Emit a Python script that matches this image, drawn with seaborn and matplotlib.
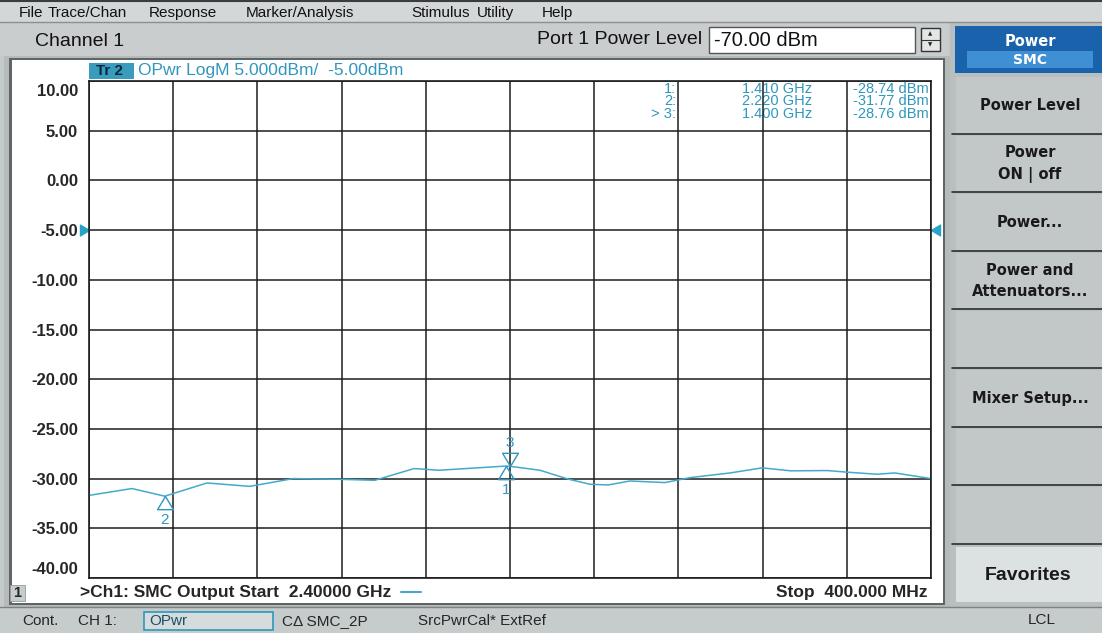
import numpy as np
import pandas as pd
import matplotlib
matplotlib.use("Agg")
import matplotlib.pyplot as plt
import matplotlib.transforms as mtransforms
from matplotlib.patches import Rectangle
from matplotlib.path import Path
import seaborn as sns

# trace data (frequency in GHz, output power in dBm)
freq_ghz = [2.400, 2.298, 2.220, 2.120, 2.018, 1.915, 1.806, 1.721, 1.628, 1.569,
            1.410, 1.400, 1.329, 1.260, 1.210, 1.167, 1.115, 1.032, 0.972, 0.877,
            0.801, 0.733, 0.647, 0.597, 0.528, 0.486, 0.400]
power_dbm = [-31.69, -31.00, -31.77, -30.44, -30.78, -30.00, -30.07, -30.17, -28.99, -29.16,
             -28.74, -28.76, -29.16, -30.07, -30.57, -30.64, -30.24, -30.40, -29.90, -29.43,
             -28.92, -29.22, -29.19, -29.36, -29.56, -29.43, -30.00]

# markers
marker_ids = ["1", "2", "3"]
marker_freq = [1.410, 2.220, 1.400]
marker_dbm = [-28.74, -31.77, -28.76]
marker_up = [True, True, False]

y_ticks = [10, 5, 0, -5, -10, -15, -20, -25, -30, -35, -40]
ref_level = -5.0
start_ghz, stop_ghz = 2.4, 0.4

menu_items = ["File", "Trace/Chan", "Response", "Marker/Analysis", "Stimulus", "Utility", "Help"]
menu_x = [19, 48, 149, 246, 411, 477, 542]
softkeys = ["Power Level", "Power\nON | off", "Power...", "Power and\nAttenuators...", "",
            "Mixer Setup...", "", ""]

df = pd.DataFrame({"Frequency": freq_ghz, "Power": power_dbm})

W, H = 1102, 633
TEAL = "#2f97bd"
TRACE = "#45a9cc"
GRAY = "#c4c9c9"

sns.set_style("white")
plt.rcParams["font.family"] = ["Liberation Sans", "DejaVu Sans"]

fig = plt.figure(figsize=(W / 100, H / 100), dpi=100)
fig.patch.set_facecolor(GRAY)

# background "screen" drawn in pixel coordinates
bg = fig.add_axes([0, 0, 1, 1])
bg.set_xlim(0, W)
bg.set_ylim(H, 0)
bg.axis("off")
bg.set_zorder(0)


def box(x0, y0, x1, y1, fc, ec="none", lw=0):
    bg.add_patch(Rectangle((x0, y0), x1 - x0, y1 - y0, facecolor=fc, edgecolor=ec, linewidth=lw))


# menu bar
box(0, 0, W, 22, "#d3d7d7")
bg.plot([0, W], [1, 1], color="#3a3d3e", lw=1.5)
bg.plot([0, W], [22, 22], color="#8a8f90", lw=1)
for name, x in zip(menu_items, menu_x):
    bg.text(x, 13, name, fontsize=11, va="center", ha="left", color="#111111")

# channel title row
box(0, 23, 948, 56, "#c9cdcd")
bg.text(35, 41, "Channel 1", fontsize=14, va="center", ha="left", color="#111111")
bg.text(702, 40, "Port 1 Power Level", fontsize=14, va="center", ha="right", color="#111111")
box(709, 27, 915, 53, "white", ec="#555555", lw=1)
bg.text(714, 40, "-70.00 dBm", fontsize=14.5, va="center", ha="left", color="#111111")
box(921, 28, 940, 51, "#e4e6e6", ec="#333333", lw=1)
bg.plot([921, 940], [39.5, 39.5], color="#333333", lw=0.8)
bg.text(930.5, 34, "▲", fontsize=4, va="center", ha="center", family="DejaVu Sans")
bg.text(930.5, 45, "▼", fontsize=4, va="center", ha="center", family="DejaVu Sans")

# plot panel
box(4, 56, 950, 607, "#b5baba")
box(9, 58, 945, 605, "#5f6466")
box(12, 60, 943, 603, "white")

# right soft-key panel
box(950, 22, W, 607, "#b9bebe")
box(955, 26, W, 73, "#1a62ab")
box(967, 51, 1093, 68, "#3f8fd4")
bg.text(1030, 41, "Power", fontsize=10.5, color="white", ha="center", va="center",
        family="DejaVu Sans", weight="bold")
bg.text(1030, 60, "SMC", fontsize=10, color="white", ha="center", va="center",
        family="DejaVu Sans", weight="bold")
key_top = 77
key_h = 58.6
for i, label in enumerate(softkeys):
    y0 = key_top + i * key_h
    box(956, y0, W, y0 + key_h - 3, "#c2c7c7")
    bg.plot([952, W], [y0 + key_h - 2, y0 + key_h - 2], color="#2b2f30", lw=1.2)
    if label:
        bg.text(1030, y0 + key_h / 2 - 1, label, fontsize=10.5, ha="center", va="center",
                family="DejaVu Sans", weight="bold", color="#1a1a1a", linespacing=1.55)
box(956, 547, W, 602, "#dce1e1")
bg.text(1028, 575, "Favorites", fontsize=14, ha="center", va="center",
        weight="bold", color="#1a1a1a")

# status bar
box(0, 607, W, H, "#c6cbcb")
bg.plot([0, W], [607, 607], color="#7c8182", lw=1)
bg.text(22, 621, "Cont.", fontsize=11, va="center")
bg.text(78, 621, "CH 1:", fontsize=11, va="center")
box(144, 612, 273, 630, "#d6dbdb", ec=TEAL, lw=1.2)
bg.text(149, 621, "OPwr", fontsize=11, va="center", color="#1d4f6a")
bg.text(282, 621, "CΔ SMC_2P", fontsize=11, va="center")
bg.text(418, 621, "SrcPwrCal* ExtRef", fontsize=11, va="center")
bg.text(1042, 620, "LCL", fontsize=11, va="center", ha="center")

# trace header / marker readout (one text block per column)
box(89, 63, 134, 79, "#3a9cbc")
bg.text(96, 71, "Tr 2", fontsize=11, va="center", color="#0d2740", weight="bold")
bg.text(138, 71, "OPwr LogM 5.000dBm/  -5.00dBm", fontsize=12.5, va="center", color=TEAL)
tags = "\n".join(("> " if i == 2 else "") + m + ":" for i, m in enumerate(marker_ids))
freqs = "\n".join(f"{f:.3f} GHz" for f in marker_freq)
levels = "\n".join(f"{p:.2f} dBm" for p in marker_dbm)
for x, txt in [(676, tags), (812, freqs), (929, levels)]:
    bg.text(x, 82, txt, fontsize=10.5, ha="right", va="top", color=TEAL,
            linespacing=0.85, multialignment="right")

# bottom stimulus line
box(10, 585, 25, 601, "#c7cccc", ec="#999999", lw=0.6)
bg.text(17.5, 593, "1", fontsize=10.5, ha="center", va="center", weight="bold")
bg.text(80, 593, ">Ch1: SMC Output Start  2.40000 GHz", fontsize=12.5, va="center", weight="bold")
bg.plot([401, 421], [592, 592], color=TRACE, lw=1.5)
bg.text(928, 593, "Stop  400.000 MHz", fontsize=12.5, va="center", ha="right", weight="bold")

# main measurement grid
ax = fig.add_axes([89 / W, (H - 578) / H, 842 / W, 497 / H])
ax.set_zorder(1)
ax.patch.set_visible(False)
sns.lineplot(data=df, x="Frequency", y="Power", ax=ax, color=TRACE, linewidth=1.1,
             sort=False, estimator=None)
ax.set_xlim(start_ghz, stop_ghz)
ax.set_ylim(-40, 10)
ax.set_xticks(np.linspace(start_ghz, stop_ghz, 11))
ax.set_xticklabels([])
ax.set_yticks(y_ticks)
ax.set_yticklabels([f"{v:.2f}" for v in y_ticks])
ax.grid(True, color="#1c1c1c", linewidth=1.1)
ax.tick_params(axis="both", length=0)
ax.tick_params(axis="y", pad=8, labelsize=12)
for lab in ax.get_yticklabels():
    lab.set_fontweight("bold")
labs = ax.get_yticklabels()
labs[0].set_transform(labs[0].get_transform() + mtransforms.ScaledTranslation(0, -9 / 100, fig.dpi_scale_trans))
labs[-1].set_transform(labs[-1].get_transform() + mtransforms.ScaledTranslation(0, 10 / 100, fig.dpi_scale_trans))
for s in ax.spines.values():
    s.set_color("#1c1c1c")
    s.set_linewidth(1.2)
ax.set_xlabel("")
ax.set_ylabel("")

# marker triangles with apex at the trace value
tri_up = Path([(0, 0), (-0.6, -1), (0.6, -1), (0, 0)], closed=True)
tri_dn = Path([(0, 0), (-0.6, 1), (0.6, 1), (0, 0)], closed=True)
for mid, f, p, up in zip(marker_ids, marker_freq, marker_dbm, marker_up):
    ax.plot([f], [p], marker=tri_up if up else tri_dn, markersize=19, markerfacecolor="none",
            markeredgecolor=TEAL, markeredgewidth=1.0, linestyle="none")
    ax.annotate(mid, (f, p), xytext=(0, -17 if up else 16.5), textcoords="offset points",
                ha="center", va="center", color=TEAL, fontsize=11)

# reference level arrows
ref_r = Path([(0, 0), (-1, 0.6), (-1, -0.6), (0, 0)], closed=True)
ref_l = Path([(0, 0), (1, 0.6), (1, -0.6), (0, 0)], closed=True)
ax.plot([start_ghz], [ref_level], marker=ref_r, markersize=13, color="#2aa3c9", clip_on=False)
ax.plot([stop_ghz], [ref_level], marker=ref_l, markersize=13, color="#2aa3c9", clip_on=False)

fig.savefig("out.png", dpi=100, facecolor=fig.get_facecolor())
